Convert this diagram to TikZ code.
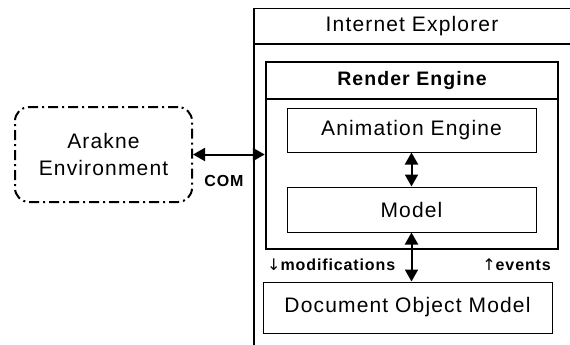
\documentclass[tikz,border=0pt]{standalone}
\usepackage{fontspec}
\setmainfont{Liberation Sans}[LetterSpace=5.5]
\newfontfamily\arrowfont{DejaVu Sans}
\usepackage{tikz}
\usetikzlibrary{shapes,arrows.meta,calc}
\tikzstyle{line} = [draw, line width=2pt, {Triangle[length=12pt,width=13pt]}-{Triangle[length=12pt,width=13pt]}]
\tikzstyle{block} = [draw, rectangle, text centered, inner sep=0pt, line width=1pt, font=\fontsize{21}{25}\selectfont]
\tikzstyle{cloud} = [draw, rectangle, rounded corners=14pt, line width=2pt, dash pattern=on 10pt off 4pt on 2pt off 4pt, align=center, inner sep=0pt, font=\fontsize{21}{27}\selectfont]
\tikzstyle{title} = [inner sep=0pt, font=\fontsize{21}{25}\selectfont]
\tikzstyle{tag} = [inner sep=0pt, font=\fontsize{16}{18}\selectfont\bfseries]

\begin{document}
\begin{tikzpicture}[x=1pt, y=-1pt]
        \clip (0,0) rectangle (570,345);
        \node[block, line width=1.5pt, anchor=north west, minimum width=330pt, minimum height=360pt] (ie) at (253,8) {};
        \draw[line width=1.5pt] (ie.west |- 0,44) -- (ie.east |- 0,44);
        \node[title] (ietitle) at (412,26) {Internet Explorer};
        \node[block, line width=2.5pt, minimum width=292pt, minimum height=187pt] (render) at (412,155.5) {};
        \draw[line width=2.5pt] (render.west |- 0,99) -- (render.east |- 0,99);
        \node[title, font=\fontsize{19.5}{23}\selectfont\bfseries] (rendertitle) at (412,81) {Render Engine};
        \node[block, minimum width=249pt, minimum height=44pt] (anim) at (411.5,130) {Animation Engine};
        \node[block, minimum width=249pt, minimum height=45pt] (model) at (411.5,209.5) {Model};
        \node[block, minimum width=289pt, minimum height=51pt] (dom) at (407.5,307.5) {Document Object Model};
        \node[cloud, minimum width=177pt, minimum height=95pt] (arakne) at (103.5,154.5) {Arakne\\Environment};
        \path[line] (arakne.east) -- (arakne.east -| render.west);
        \node[tag] (com) at (224,181) {COM};
        \path[line] (anim.south) -- (model.north);
        \path[line] (model.south) -- (model.south |- dom.north);
        \node[tag, anchor=west] (mods) at (267,265) {{\arrowfont\mdseries ↓}modifications};
        \node[tag, anchor=east] (events) at (551,265) {{\arrowfont\mdseries ↑}events};
    \end{tikzpicture}
\end{document}
